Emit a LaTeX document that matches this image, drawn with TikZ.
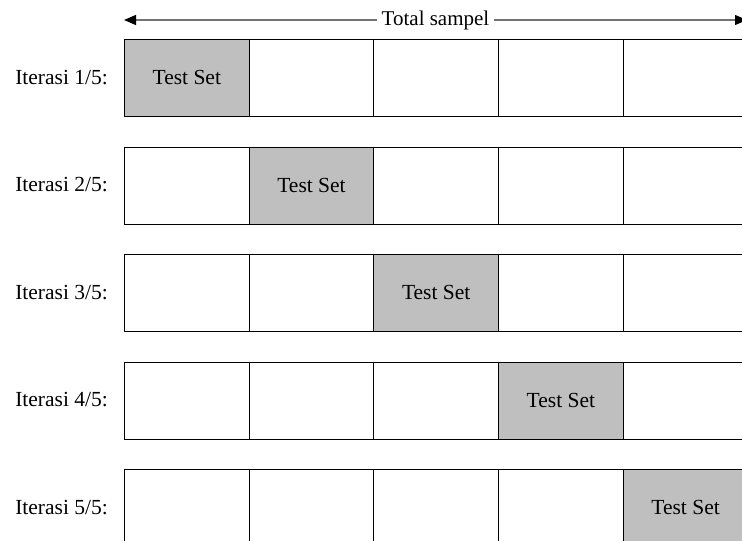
\documentclass[tikz,border=0pt]{standalone}
\usepackage{fontspec}
\setmainfont{Liberation Serif}
\usetikzlibrary{arrows.meta}
\begin{document}
\begin{tikzpicture}[x=1pt,y=-1pt,
  cell/.style={draw=black,line width=0.9pt,minimum width=124.7pt,minimum height=77pt,anchor=north west,inner sep=0pt,font=\fontsize{21.5}{25}\selectfont},
  testcell/.style={cell,fill=black!25},
  rowlabel/.style={anchor=east,inner sep=0pt,font=\fontsize{21.5}{25}\selectfont},
  total/.style={fill=white,inner xsep=5pt,inner ysep=2pt,font=\fontsize{21}{25}\selectfont},
  tip/.style={Triangle[length=12pt,width=10pt,color=black]}]
\useasboundingbox (0,0) rectangle (742,541);
\clip (0,0) rectangle (742,541);
% header arrow
\coordinate (aL) at (124,20);
\coordinate (aR) at (747,20);
\draw[black!55,line width=1.2pt,{Triangle[length=12pt,width=10pt,color=black]}-{Triangle[length=12pt,width=10pt,color=black]}] (aL) -- (aR)
  node[midway,total,text=black] (tot) {Total sampel};
% rows
\foreach \r/\y in {1/39,2/146.5,3/254,4/361.5,5/469}{
  \node[rowlabel] (lab\r) at (108,\y+38.5) {Iterasi \r/5:};
  \foreach \c in {1,...,5}{
    \pgfmathsetmacro{\xx}{124+(\c-1)*124.7}
    \ifnum\c=\r
      \node[testcell] (c\r\c) at (\xx,\y) {Test Set};
    \else
      \node[cell] (c\r\c) at (\xx,\y) {};
    \fi
  }
}
\end{tikzpicture}
\end{document}
